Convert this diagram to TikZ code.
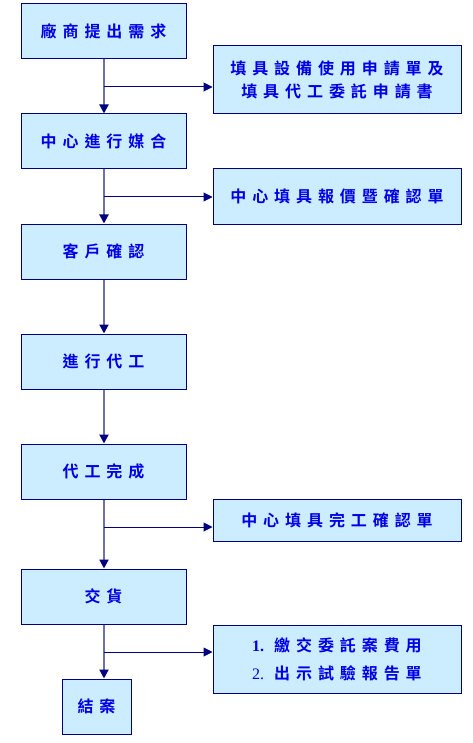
\documentclass[tikz,border=0pt]{standalone}
\usepackage{fontspec}
\newfontfamily\cjk[LetterSpace=37]{Noto Sans CJK TC Bold}
\newfontfamily\numf{Liberation Serif}
\usetikzlibrary{arrows.meta}
\definecolor{boxfill}{HTML}{CCECFF}
\definecolor{navy}{HTML}{000080}
\definecolor{txt}{HTML}{0000E6}
\definecolor{vline}{HTML}{7070A8}
\tikzset{
  box/.style={draw=navy, line width=1pt, fill=boxfill, inner sep=0pt, text=txt, font=\cjk\fontsize{16}{23}\selectfont, align=center},
  lbox/.style={box, minimum width=165pt, minimum height=55pt},
  rbox/.style={box, minimum width=248pt},
  down/.style={draw=vline, line width=2pt, -{Triangle[length=9pt,width=9pt,color=navy]}},
  side/.style={draw=navy, line width=1pt, -{Triangle[length=9pt,width=9pt]}},
}
\begin{document}
\begin{tikzpicture}[x=1pt,y=-1pt]
\useasboundingbox (0,0) rectangle (473,743);
\node[lbox] (b1) at (103.5,31.5) {廠商提出需求};
\node[lbox] (b2) at (103.5,141.5) {中心進行媒合};
\node[lbox] (b3) at (103.5,251.5) {客戶確認};
\node[lbox] (b4) at (103.5,361.5) {進行代工};
\node[lbox] (b5) at (103.5,471.5) {代工完成};
\node[lbox] (b6) at (103.5,596.5) {交貨};
\node[box, minimum width=69pt, minimum height=55pt] (b7) at (96.5,706.5) {結案};
\node[rbox, minimum height=68pt] (r1) at (337,80) {填具設備使用申請單及\\填具代工委託申請書};
\node[rbox, minimum height=55pt] (r2) at (337,196.5) {中心填具報價暨確認單};
\node[rbox, minimum height=42pt] (r3) at (337,520) {中心填具完工確認單};
\node[rbox, minimum height=68pt, font=\cjk\fontsize{16}{28}\selectfont] (r4) at (337,659) {{\numf\bfseries 1.}\hspace{10pt}繳交委託案費用\\{\numf 2.}\hspace{10pt}出示試驗報告單};
\coordinate (j1) at (104,87);
\coordinate (j2) at (104,197);
\coordinate (j5) at (104,527);
\coordinate (j6) at (104,652);
\draw[down] (b1.south -| j1) -- (b2.north -| j1);
\draw[down] (b2.south -| j1) -- (b3.north -| j1);
\draw[down] (b3.south -| j1) -- (b4.north -| j1);
\draw[down] (b4.south -| j1) -- (b5.north -| j1);
\draw[down] (b5.south -| j1) -- (b6.north -| j1);
\draw[down] (b6.south -| j1) -- (b7.north -| j1);
\draw[side] (j1) -- (r1.west |- j1);
\draw[side] (j2) -- (r2.west |- j2);
\draw[side] (j5) -- (r3.west |- j5);
\draw[side] (j6) -- (r4.west |- j6);
\end{tikzpicture}
\end{document}
